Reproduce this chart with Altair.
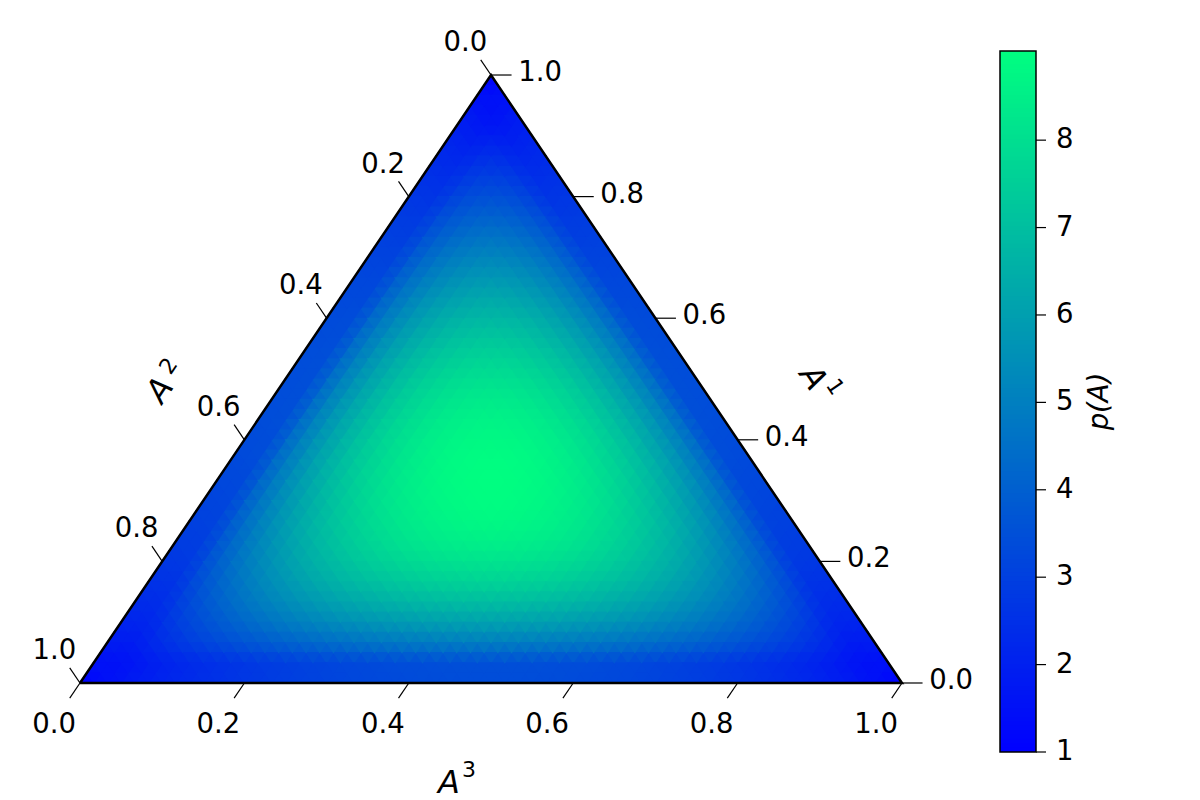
import altair as alt
import numpy as np
import pandas as pd

# ---------------------------------------------------------------------------
# Data
# ---------------------------------------------------------------------------
N = 30  # ternary lattice, step 1/30

# Estimated p(A) on the 1/30 lattice.  The picture is three-fold symmetric, so
# each list holds the values for sorted index triples (i >= j >= k), one list
# per smallest index k, starting with j = k.  (k = 0 is the visible edge colour.)
P_K0 = [1.00, 1.52, 1.85, 2.12, 2.35, 2.54, 2.72, 2.87, 3.00, 3.11, 3.20, 3.27, 3.33, 3.37, 3.39, 3.40]
P_K1 = [1.55, 1.90, 2.18, 2.42, 2.63, 2.81, 2.97, 3.10, 3.21, 3.30, 3.38, 3.43, 3.46, 3.48]
P_K2 = [2.47, 2.93, 3.32, 3.66, 3.95, 4.19, 4.40, 4.58, 4.72, 4.83, 4.90, 4.95, 4.96]
P_K3 = [3.53, 4.05, 4.48, 4.86, 5.17, 5.44, 5.66, 5.83, 5.96, 6.04, 6.08]
P_K4 = [4.66, 5.17, 5.61, 5.98, 6.29, 6.54, 6.72, 6.86, 6.94, 6.96]
P_K5 = [5.76, 6.25, 6.66, 6.99, 7.25, 7.45, 7.58, 7.64]
P_K6 = [6.78, 7.21, 7.56, 7.83, 8.02, 8.13, 8.17]
P_K7 = [7.67, 8.02, 8.28, 8.45, 8.54]
P_K8 = [8.37, 8.61, 8.76, 8.81]
P_K9 = [8.83, 8.94]
P_K10 = [9.00]
ROWS = [P_K0, P_K1, P_K2, P_K3, P_K4, P_K5, P_K6, P_K7, P_K8, P_K9, P_K10]

TICKS = [0.0, 0.2, 0.4, 0.6, 0.8, 1.0]
TICK_TEXT = ["0.0", "0.2", "0.4", "0.6", "0.8", "1.0"]
CBAR_TICKS = [1, 2, 3, 4, 5, 6, 7, 8]
VMIN, VMAX = 1.0, 9.02
CMAP = ["#0000ff", "#00ff80"]  # matplotlib "winter"

# ---------------------------------------------------------------------------
# Layout / style
# ---------------------------------------------------------------------------
FONT = "DejaVu Sans"
PLOT_W, PLOT_H = 822, 701
PX_X, PX_Y = 822.0, 608.0            # pixels per ternary unit (x, y)
Y_DOM = [-0.1135, 1.0395]
TICK_FS = 27.5
TITLE_FS = 32
SUP_FS = 22
SUB = 2                               # each lattice triangle drawn as SUB*SUB cells


def p_at(a, b, c):
    i, j, k = sorted((a, b, c), reverse=True)
    return ROWS[k][j - k]


def to_xy(p, q):
    """lattice (A1 index p, A3 index q) -> cartesian ternary coords"""
    return (q + p / 2) / N, p / N


def sub_cells(verts, orient, out):
    """split one lattice triangle into 4 cells coloured from its corner values"""
    pts = [np.array(to_xy(p, q)) for p, q in verts]
    vals = [p_at(p, N - p - q, q) for p, q in verts]
    for a in range(3):
        b, c = (a + 1) % 3, (a + 2) % 3
        cen = (4 * pts[a] + pts[b] + pts[c]) / 6
        val = (4 * vals[a] + vals[b] + vals[c]) / 6
        out[orient].append({"x": cen[0], "y": cen[1], "p": val})
    cen = (pts[0] + pts[1] + pts[2]) / 3
    out["dn" if orient == "up" else "up"].append({"x": cen[0], "y": cen[1], "p": sum(vals) / 3})


cells = {"up": [], "dn": []}
for p in range(N):
    for q in range(N - p):
        sub_cells([(p, q), (p, q + 1), (p + 1, q)], "up", cells)
for p in range(N - 1):
    for q in range(N - 1 - p):
        sub_cells([(p, q + 1), (p + 1, q), (p + 1, q + 1)], "dn", cells)

xs = alt.Scale(domain=[0, 1], nice=False, zero=False)
ys = alt.Scale(domain=Y_DOM, nice=False, zero=False)
cs = alt.Scale(domain=[VMIN, VMAX], range=CMAP, interpolate="rgb", clamp=True)

UP_PATH = "M0,-0.986L1,0.493L-1,0.493Z"
DN_PATH = "M0,0.986L1,-0.493L-1,-0.493Z"
CELL_SIZE = (PX_X / (N * SUB) * 1.15) ** 2


def heat(rows, path):
    return alt.Chart(pd.DataFrame(rows)).mark_point(
        shape=path, size=CELL_SIZE, filled=True, opacity=1, strokeWidth=0
    ).encode(
        x=alt.X("x:Q", scale=xs, axis=None),
        y=alt.Y("y:Q", scale=ys, axis=None),
        color=alt.Color("p:Q", scale=cs, legend=None),
    )


heat_up = heat(cells["up"], UP_PATH)
heat_dn = heat(cells["dn"], DN_PATH)

# triangle outline: corners A1 (top), A2 (bottom-left), A3 (bottom-right)
border_df = pd.DataFrame({"x": [0.0, 0.5, 1.0, 0.0], "y": [0.0, 1.0, 0.0, 0.0], "o": [0, 1, 2, 3]})
border = alt.Chart(border_df).mark_line(color="black", strokeWidth=2.5).encode(
    x=alt.X("x:Q", scale=xs, axis=None),
    y=alt.Y("y:Q", scale=ys, axis=None),
    order="o:Q",
)

# ticks and tick labels
TICK_OFF = 0.025
tick_rows, lab_rows = [], []
for t, s in zip(TICKS, TICK_TEXT):
    x0, y0 = (1 - t) / 2, 1 - t                      # left axis: A2
    tick_rows.append({"x": x0, "y": y0, "x2": x0 - TICK_OFF / 2, "y2": y0 + TICK_OFF})
    lab_rows.append({"x": x0, "y": y0, "t": s, "side": "left"})
    x0, y0 = t, 0.0                                  # bottom axis: A3
    tick_rows.append({"x": x0, "y": y0, "x2": x0 - TICK_OFF / 2, "y2": y0 - TICK_OFF})
    lab_rows.append({"x": x0, "y": y0, "t": s, "side": "bottom"})
    x0, y0 = 1 - t / 2, t                            # right axis: A1
    tick_rows.append({"x": x0, "y": y0, "x2": x0 + TICK_OFF, "y2": y0})
    lab_rows.append({"x": x0, "y": y0, "t": s, "side": "right"})

ticks = alt.Chart(pd.DataFrame(tick_rows)).mark_rule(color="black", strokeWidth=1.2).encode(
    x=alt.X("x:Q", scale=xs, axis=None),
    y=alt.Y("y:Q", scale=ys, axis=None),
    x2="x2:Q",
    y2="y2:Q",
)

lab_df = pd.DataFrame(lab_rows)
LAB_OFF = {"left": (-25.7, -32), "bottom": (-26, 42), "right": (49, -2)}


def tick_labels(side):
    dx, dy = LAB_OFF[side]
    return alt.Chart(lab_df[lab_df.side == side]).mark_text(
        font=FONT, fontSize=TICK_FS, color="black", align="center", baseline="middle", dx=dx, dy=dy
    ).encode(
        x=alt.X("x:Q", scale=xs, axis=None),
        y=alt.Y("y:Q", scale=ys, axis=None),
        text="t:N",
    )


# axis titles: offsets in pixels from the middle of each edge
TITLES = [
    # (edge mid x, edge mid y, px dx, px dy, text, size, style, angle)
    (0.5, 0.0, -42, 100, "A", TITLE_FS, "italic", 0),
    (0.5, 0.0, -22, 87, "3", SUP_FS, "normal", 0),
    (0.25, 0.5, -125.5, 11, "A", TITLE_FS, "italic", 304),
    (0.25, 0.5, -117, -13, "2", SUP_FS, "normal", 304),
    (0.75, 0.5, 116.5, -1, "A", TITLE_FS, "italic", 56),
    (0.75, 0.5, 138.5, 8, "1", SUP_FS, "normal", 56),
]
title_layers = []
for mx, my, dxp, dyp, txt, fs, st, ang in TITLES:
    df = pd.DataFrame({"x": [mx + dxp / PX_X], "y": [my - dyp / PX_Y], "t": [txt]})
    title_layers.append(
        alt.Chart(df).mark_text(
            font=FONT, fontSize=fs, fontStyle=st, color="black",
            align="center", baseline="middle", angle=ang,
        ).encode(
            x=alt.X("x:Q", scale=xs, axis=None),
            y=alt.Y("y:Q", scale=ys, axis=None),
            text="t:N",
        )
    )

tern = alt.layer(
    heat_up, heat_dn, border, ticks,
    tick_labels("left"), tick_labels("bottom"), tick_labels("right"),
    *title_layers,
)

# ---------------------------------------------------------------------------
# colour bar (own y scale)
# ---------------------------------------------------------------------------
levels = np.linspace(VMIN, VMAX, 161)
step = levels[1] - levels[0]
cb_df = pd.DataFrame({
    "lo": levels[:-1],
    "hi": np.minimum(levels[:-1] + step * 1.6, VMAX),
    "mid": levels[:-1] + step / 2,
})
cb_y = alt.Scale(domain=[VMIN, VMAX], nice=False, zero=False)
CB_X0, CB_X1 = 920, 956  # colour bar left/right inside the view (px)

cbar = alt.Chart(cb_df).mark_rect().encode(
    x=alt.value(CB_X0),
    x2=alt.value(CB_X1),
    y=alt.Y("lo:Q", scale=cb_y, axis=None),
    y2="hi:Q",
    color=alt.Color("mid:Q", scale=cs, legend=None),
)

frame = alt.Chart(pd.DataFrame({"lo": [VMIN], "hi": [VMAX]})).mark_rect(
    fillOpacity=0, stroke="black", strokeWidth=1.5
).encode(
    x=alt.value(CB_X0),
    x2=alt.value(CB_X1),
    y=alt.Y("lo:Q", scale=cb_y, axis=None),
    y2="hi:Q",
)

cb_tick_df = pd.DataFrame({"v": CBAR_TICKS, "t": [str(v) for v in CBAR_TICKS]})
cb_ticks = alt.Chart(cb_tick_df).mark_rule(color="black", strokeWidth=1.2).encode(
    x=alt.value(CB_X1),
    x2=alt.value(CB_X1 + 10),
    y=alt.Y("v:Q", scale=cb_y, axis=None),
)
cb_labels = alt.Chart(cb_tick_df).mark_text(
    font=FONT, fontSize=TICK_FS, color="black", align="left", baseline="middle"
).encode(
    x=alt.value(CB_X1 + 20),
    y=alt.Y("v:Q", scale=cb_y, axis=None),
    text="t:N",
)
cb_title = alt.Chart(pd.DataFrame({"v": [(VMIN + VMAX) / 2], "t": ["p(A)"]})).mark_text(
    font=FONT, fontSize=TICK_FS, fontStyle="italic", color="black",
    align="center", baseline="middle", angle=270,
).encode(
    x=alt.value(CB_X1 + 64),
    y=alt.Y("v:Q", scale=cb_y, axis=None),
    text="t:N",
)

cb = alt.layer(cbar, frame, cb_ticks, cb_labels, cb_title)

chart = (
    alt.layer(tern, cb)
    .resolve_scale(y="independent")
    .properties(
        width=PLOT_W,
        height=PLOT_H,
        autosize=alt.AutoSizeParams(type="none"),
        padding={"left": 72, "top": 43, "right": 290, "bottom": 48},
        background="white",
    )
    .configure_view(stroke=None)
)

chart.save("out.html", embed_options={"renderer": "svg", "actions": False})
